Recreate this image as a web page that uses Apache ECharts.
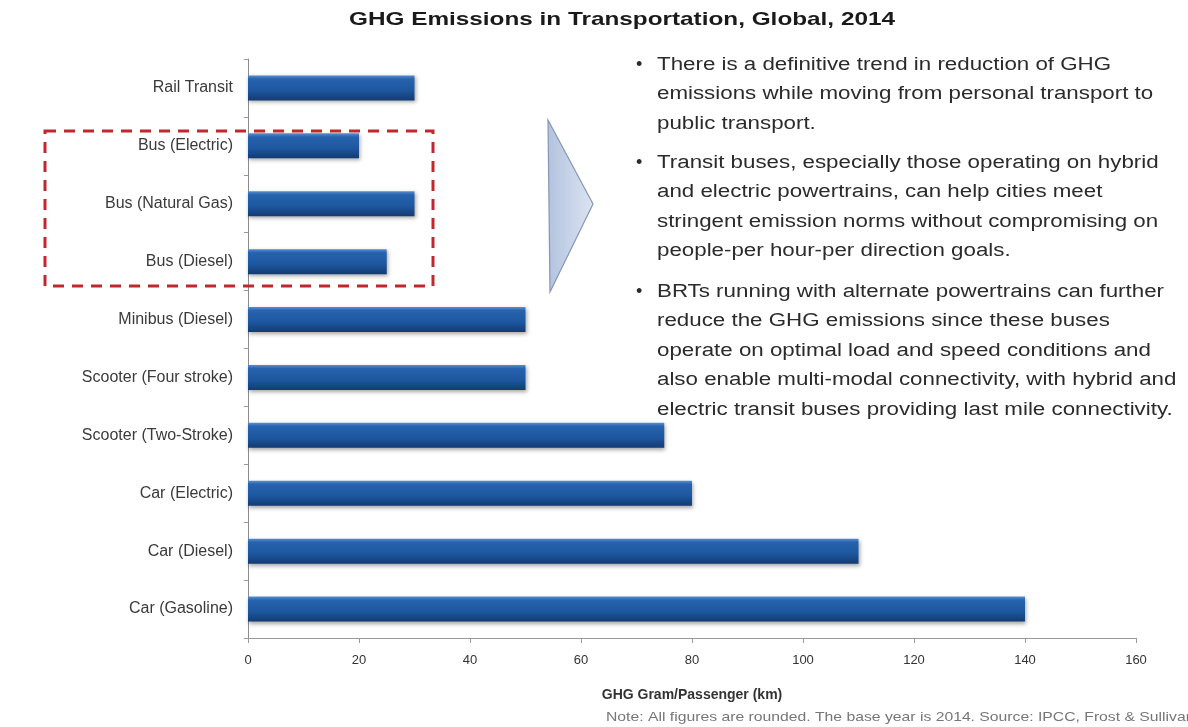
<!DOCTYPE html>
<html>
<head>
<meta charset="utf-8">
<title>GHG Emissions in Transportation, Global, 2014</title>
<script src="https://cdn.jsdelivr.net/npm/echarts@6/dist/echarts.min.js"></script>
<style>
  html, body { margin: 0; padding: 0; background: #ffffff; }
  #chart { width: 1188px; height: 727px; }
</style>
</head>
<body>
<div id="chart"></div>
<script>
// Transport modes, listed top to bottom
const categories = [
  'Rail Transit',
  'Bus (Electric)',
  'Bus (Natural Gas)',
  'Bus (Diesel)',
  'Minibus (Diesel)',
  'Scooter (Four stroke)',
  'Scooter (Two-Stroke)',
  'Car (Electric)',
  'Car (Diesel)',
  'Car (Gasoline)'
];

// GHG grams per passenger-km
const emissions = [30, 20, 30, 25, 50, 50, 75, 80, 110, 140];

// Value axis range and step
const axisMin = 0;
const axisMax = 160;
const axisStep = 20;

const titleText = 'GHG Emissions in Transportation, Global, 2014';
const axisTitle = 'GHG Gram/Passenger (km)';
const noteText = 'Note: All figures are rounded. The base year is 2014. Source: IPCC, Frost & Sullivan';

// Commentary bullets, one array of lines per bullet
const bulletOne = [
  'There is a definitive trend in reduction of GHG',
  'emissions while moving from personal transport to',
  'public transport.'
];
const bulletTwo = [
  'Transit buses, especially those operating on hybrid',
  'and electric powertrains, can help cities meet',
  'stringent emission norms without compromising on',
  'people-per hour-per direction goals.'
];
const bulletThree = [
  'BRTs running with alternate powertrains can further',
  'reduce the GHG emissions since these buses',
  'operate on optimal load and speed conditions and',
  'also enable multi-modal connectivity, with hybrid and',
  'electric transit buses providing last mile connectivity.'
];

const FONT = '"Liberation Sans", Arial, Helvetica, sans-serif';
const TEXT_STRETCH = 1.24;
const LINE_H = 29.5;

function paragraph(lines, top) {
  return [
    {
      type: 'text', x: 636, y: top + LINE_H / 2, z: 10,
      style: { text: '•', fill: '#2b2b2b', font: '18px ' + FONT,
               textAlign: 'left', textVerticalAlign: 'middle' }
    },
    {
      type: 'text', x: 657, y: top, scaleX: TEXT_STRETCH, z: 10,
      style: { text: lines.join('\n'), fill: '#2b2b2b', font: '18px ' + FONT,
               lineHeight: LINE_H, textAlign: 'left', textVerticalAlign: 'top' }
    }
  ];
}

const chart = echarts.init(document.getElementById('chart'), null, { renderer: 'canvas' });

const barFill = new echarts.graphic.LinearGradient(0, 0, 0, 1, [
  { offset: 0, color: '#5a8ed0' },
  { offset: 0.14, color: '#2763ae' },
  { offset: 0.6, color: '#1d579f' },
  { offset: 1, color: '#133b72' }
]);

const option = {
  backgroundColor: '#ffffff',
  animation: false,
  grid: { left: 248, right: 52, top: 59, bottom: 89, containLabel: false },
  xAxis: {
    type: 'value',
    min: axisMin,
    max: axisMax,
    interval: axisStep,
    name: axisTitle,
    nameLocation: 'middle',
    nameGap: 50,
    nameTextStyle: { fontFamily: FONT, fontWeight: 'bold', fontSize: 14, color: '#333333' },
    axisLine: { show: true, lineStyle: { color: '#9a9a9a', width: 1 } },
    axisTick: { show: true, length: 5, lineStyle: { color: '#9a9a9a' } },
    axisLabel: { margin: 16, fontFamily: FONT, fontSize: 13, color: '#333333' },
    splitLine: { show: false }
  },
  yAxis: {
    type: 'category',
    data: categories,
    inverse: true,
    axisLine: { show: true, lineStyle: { color: '#8c8c8c', width: 1 } },
    axisTick: { show: true, length: 4, lineStyle: { color: '#9a9a9a' } },
    axisLabel: { margin: 15, fontFamily: FONT, fontSize: 16, color: '#3a3a3a' }
  },
  series: [{
    type: 'bar',
    data: emissions,
    barWidth: 25,
    itemStyle: {
      color: barFill,
      shadowColor: 'rgba(0, 0, 0, 0.35)',
      shadowBlur: 4,
      shadowOffsetX: 1,
      shadowOffsetY: 2
    },
    z: 2
  }],
  graphic: {
    elements: [
      {
        type: 'text', x: 622, y: 20, scaleX: 1.28, z: 10,
        style: { text: titleText, fill: '#1a1a1a', font: 'bold 19px ' + FONT,
                 textAlign: 'center', textVerticalAlign: 'middle' }
      },
      // dashed frame around the bus group
      {
        type: 'rect', z: 20,
        shape: { x: 45, y: 131, width: 388, height: 155 },
        style: { fill: 'none', stroke: '#c0282e', lineWidth: 3, lineDash: [11, 8] }
      },
      // pointer towards the commentary
      {
        type: 'polygon', z: 10,
        shape: { points: [[548, 120], [593, 204], [550, 292]] },
        style: {
          fill: new echarts.graphic.LinearGradient(0, 0, 1, 0, [
            { offset: 0, color: '#b2c3df' },
            { offset: 1, color: '#dce4f1' }
          ]),
          stroke: '#8496b4',
          lineWidth: 1.2
        }
      },
      ...paragraph(bulletOne, 65 - LINE_H / 2),
      ...paragraph(bulletTwo, 163 - LINE_H / 2),
      ...paragraph(bulletThree, 292 - LINE_H / 2),
      {
        type: 'text', x: 606, y: 717, scaleX: 1.21, z: 10,
        style: { text: noteText, fill: '#777777', font: '13px ' + FONT,
                 textAlign: 'left', textVerticalAlign: 'middle' }
      }
    ]
  }
};

chart.setOption(option);
</script>
</body>
</html>
